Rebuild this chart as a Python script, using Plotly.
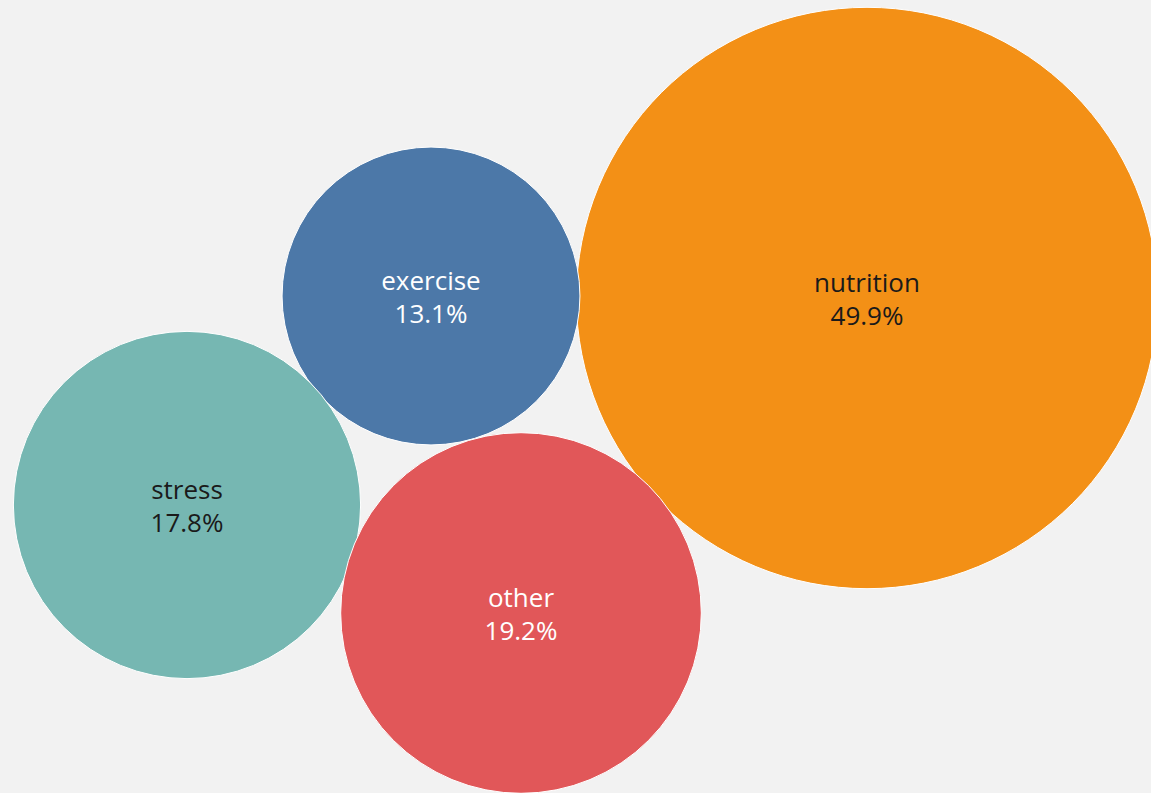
import plotly.graph_objects as go
import numpy as np

# Data
categories = ["nutrition", "exercise", "stress", "other"]
shares = [49.9, 13.1, 17.8, 19.2]

# Packed-bubble layout (centres in page pixel space)
center_x = [867, 431, 187, 521]
center_y = [298, 296, 505, 613]
colors = ["#F39016", "#4C78A8", "#76B7B2", "#E15759"]
text_colors = ["#1a1a1a", "#ffffff", "#1a1a1a", "#ffffff"]

scale = 82.3  # px diameter per sqrt(percent)
diam = [scale * np.sqrt(v) for v in shares]
labels = [f"{c}<br>{v:.1f}%" for c, v in zip(categories, shares)]

W, H = 1151, 793
fig = go.Figure(go.Scatter(
    x=center_x, y=center_y, mode="markers",
    marker=dict(size=diam, sizemode="diameter", color=colors, opacity=1,
                line=dict(color="#ffffff", width=1)),
    hoverinfo="text", hovertext=labels, cliponaxis=False,
))
# labels, nudged slightly below centre as in the original
fig.add_trace(go.Scatter(
    x=center_x, y=[y + 4 for y in center_y], mode="text",
    text=labels, textposition="middle center",
    textfont=dict(family="Open Sans, Lato, sans-serif", size=26, color=text_colors),
    hoverinfo="skip", cliponaxis=False,
))
fig.update_layout(
    width=W, height=H, margin=dict(l=0, r=0, t=0, b=0),
    paper_bgcolor="#F2F2F2", plot_bgcolor="#F2F2F2", showlegend=False,
    xaxis=dict(range=[0, W], visible=False, fixedrange=True),
    yaxis=dict(range=[H, 0], visible=False, fixedrange=True),
)
fig.write_html("out.html", config={"displayModeBar": False},
               post_script="document.body.style.margin='0';document.body.style.background='#F2F2F2';document.body.style.overflow='hidden';")
